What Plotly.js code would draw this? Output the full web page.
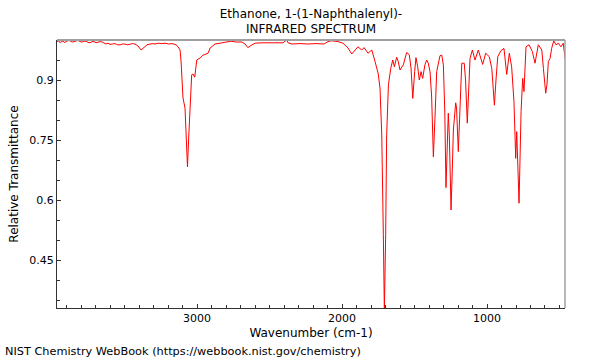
<!DOCTYPE html>
<html>
<head>
<meta charset="utf-8">
<script src="https://cdn.plot.ly/plotly-3.0.1.min.js"></script>
<style>html,body{margin:0;padding:0;background:#fff}#chart{width:600px;height:360px}</style>
</head>
<body>
<div id="chart"></div>
<script>
const chartTitle = "Ethanone, 1-(1-Naphthalenyl)-<br>INFRARED SPECTRUM";
const xTitle = "Wavenumber (cm-1)";
const yTitle = "Relative Transmittance";
const footer = "NIST Chemistry WebBook (https://webbook.nist.gov/chemistry)";

const wavenumber = [
  3966, 3955, 3945, 3935, 3924, 3914, 3904, 3890, 3876, 3862, 3848, 3835, 3821, 3807, 3793, 3780,
  3766, 3752, 3738, 3724, 3710, 3697, 3683, 3669, 3655, 3640, 3628, 3614, 3600, 3583, 3566, 3548,
  3531, 3514, 3497, 3480, 3462, 3445, 3428, 3407, 3386, 3366, 3345, 3310, 3290, 3269, 3245, 3221,
  3196, 3172, 3145, 3131, 3117, 3110, 3097, 3083, 3074, 3066, 3057, 3048, 3037, 3028, 3016, 3002,
  2979, 2959, 2933, 2924, 2910, 2876, 2841, 2800, 2766, 2731, 2690, 2669, 2650, 2634, 2600, 2552,
  2497, 2441, 2407, 2393, 2381, 2372, 2345, 2290, 2234, 2179, 2124, 2097, 2076, 2048, 2028, 1993,
  1972, 1959, 1933, 1910, 1890, 1864, 1848, 1821, 1795, 1772, 1750, 1738, 1726, 1715, 1708, 1699,
  1692, 1680, 1664, 1650, 1639, 1623, 1612, 1600, 1577, 1554, 1536, 1524, 1512, 1499, 1490, 1478,
  1467, 1455, 1444, 1428, 1416, 1405, 1393, 1382, 1370, 1359, 1347, 1324, 1312, 1301, 1291, 1283,
  1274, 1267, 1260, 1248, 1239, 1232, 1216, 1210, 1198, 1186, 1174, 1157, 1148, 1136, 1128, 1117,
  1101, 1083, 1060, 1030, 1009, 984, 967, 958, 949, 938, 926, 905, 883, 864, 846, 830,
  814, 802, 795, 779, 772, 765, 754, 745, 731, 710, 687, 669, 646, 622, 611, 595,
  586, 577, 565, 554, 540, 524, 508, 490, 474, 460
];
const transmittance = [
  0.996, 0.998, 0.993, 0.997, 0.997, 0.994, 0.995, 0.999, 0.998, 0.995, 0.996, 0.998, 0.999, 0.996, 0.995, 0.997,
  0.997, 0.994, 0.993, 0.996, 0.996, 0.993, 0.994, 0.996, 0.995, 0.991, 0.990, 0.992, 0.989, 0.990, 0.991, 0.988,
  0.988, 0.990, 0.990, 0.988, 0.989, 0.991, 0.990, 0.985, 0.975, 0.982, 0.988, 0.991, 0.990, 0.992, 0.991, 0.992,
  0.990, 0.991, 0.988, 0.983, 0.975, 0.945, 0.855, 0.830, 0.760, 0.683, 0.760, 0.845, 0.913, 0.915, 0.907, 0.950,
  0.955, 0.962, 0.965, 0.967, 0.980, 0.990, 0.992, 0.995, 0.997, 0.995, 0.995, 0.990, 0.981, 0.985, 0.992, 0.993,
  0.993, 0.992, 0.993, 0.997, 1.000, 0.993, 0.990, 0.991, 0.990, 0.991, 0.990, 0.996, 0.998, 0.997, 0.996, 0.992,
  0.985, 0.980, 0.965, 0.975, 0.983, 0.975, 0.981, 0.967, 0.975, 0.946, 0.915, 0.880, 0.763, 0.513, 0.320, 0.513,
  0.763, 0.888, 0.929, 0.950, 0.933, 0.957, 0.946, 0.925, 0.938, 0.969, 0.963, 0.930, 0.854, 0.921, 0.956, 0.933,
  0.900, 0.921, 0.904, 0.938, 0.950, 0.942, 0.921, 0.860, 0.708, 0.804, 0.921, 0.961, 0.962, 0.938, 0.820, 0.631,
  0.740, 0.817, 0.763, 0.575, 0.680, 0.775, 0.843, 0.830, 0.721, 0.817, 0.942, 0.942, 0.900, 0.792, 0.880, 0.954,
  0.975, 0.950, 0.975, 0.939, 0.967, 0.958, 0.929, 0.870, 0.837, 0.900, 0.958, 0.973, 0.979, 0.914, 0.967, 0.933,
  0.846, 0.704, 0.771, 0.592, 0.700, 0.821, 0.904, 0.871, 0.983, 0.988, 0.971, 0.942, 0.988, 0.975, 0.929, 0.867,
  0.890, 0.946, 0.954, 0.979, 0.998, 0.988, 0.992, 0.983, 0.992, 0.950
];

const xRange = [3966, 462];
const yRange = [0.33, 1.0];

const font = {family: "DejaVu Sans, sans-serif", size: 12, color: "#000"};

Plotly.newPlot("chart", [{
  x: wavenumber,
  y: transmittance,
  type: "scatter",
  mode: "lines",
  line: {color: "#ff0000", width: 1},
  hoverinfo: "skip"
}], {
  width: 600,
  height: 360,
  margin: {l: 57, r: 35, t: 40, b: 52},
  paper_bgcolor: "#fff",
  plot_bgcolor: "#fff",
  font: font,
  showlegend: false,
  title: {
    text: chartTitle,
    font: {family: "DejaVu Sans, sans-serif", size: 12, color: "#000"},
    x: 0.5, xanchor: "center",
    xref: "paper",
    yref: "container", y: 0.951, yanchor: "middle"
  },
  xaxis: {
    range: xRange,
    showgrid: false, zeroline: false,
    showline: true, linecolor: "#333", linewidth: 1,
    ticks: "inside", ticklen: 4, tickcolor: "#333",
    tick0: 0, dtick: 1000,
    tickfont: {family: "DejaVu Sans, sans-serif", size: 11, color: "#000"},
    minor: {dtick: 100, tick0: 0, ticks: "inside", ticklen: 3, tickcolor: "#333"},
    title: {text: xTitle, font: {family: "DejaVu Sans, sans-serif", size: 12, color: "#000"}, standoff: 4}
  },
  yaxis: {
    range: yRange,
    showgrid: false, zeroline: false,
    showline: true, linecolor: "#333", linewidth: 1,
    ticks: "inside", ticklen: 4, tickcolor: "#333",
    tick0: 0, dtick: 0.15,
    tickfont: {family: "DejaVu Sans, sans-serif", size: 11, color: "#000"},
    minor: {dtick: 0.05, tick0: 0, ticks: "inside", ticklen: 3, tickcolor: "#333"},
    title: {text: yTitle, font: {family: "DejaVu Sans, sans-serif", size: 12, color: "#000"}, standoff: 8}
  },
  shapes: [
    {type: "line", xref: "paper", yref: "paper", x0: 0, x1: 1, y0: 1, y1: 1, line: {color: "#a0a0a0", width: 2}},
    {type: "line", xref: "paper", yref: "paper", x0: 1, x1: 1, y0: 0, y1: 1, line: {color: "#a0a0a0", width: 1.5}}
  ],
  annotations: [{
    text: footer,
    xref: "paper", yref: "paper",
    x: -0.106, xanchor: "left",
    y: -0.164, yanchor: "middle",
    showarrow: false,
    font: {family: "DejaVu Sans, sans-serif", size: 11.3, color: "#000"}
  }]
}, {staticPlot: true, displayModeBar: false});
</script>
</body>
</html>
